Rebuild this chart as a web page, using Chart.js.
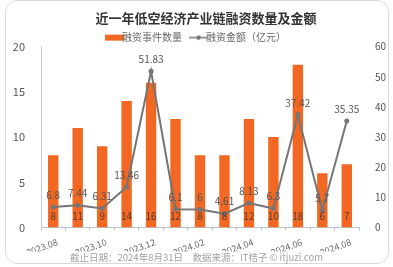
<!DOCTYPE html>
<html>
<head>
<meta charset="utf-8">
<script src="https://cdn.jsdelivr.net/npm/chart.js@4.4.1/dist/chart.umd.min.js"></script>
<style>
  html, body { margin: 0; padding: 0; background: #fff; }
  .card { position: absolute; left: 5px; top: 0; width: 382px; height: 262px; border: 1px solid #d9d9d9; border-radius: 12px; }
  .wrap { position: absolute; left: 0; top: 0; width: 393px; height: 267px; }
</style>
</head>
<body>
<div class="card"></div>
<div class="wrap"><canvas id="chart" width="393" height="267"></canvas></div>
<script>
// 近一年低空经济产业链融资数量及金额
const months = ['2023.08','2023.09','2023.10','2023.11','2023.12','2024.01','2024.02','2024.03','2024.04','2024.05','2024.06','2024.07','2024.08'];
const dealCounts = [8, 11, 9, 14, 16, 12, 8, 8, 12, 10, 18, 6, 7];
const amounts = [6.8, 7.44, 6.31, 13.46, 51.83, 6.1, 6, 4.61, 8.13, 6.3, 37.42, 5.7, 35.35];
const countMax = 20, countStep = 5;
const amountMax = 60, amountStep = 10;

const ORANGE = '#f26722';
const GREY = '#757575';
const FONT = '"Noto Sans CJK SC", "Noto Sans", sans-serif';

// legend icons, drawn with some empty room on the left for spacing
function legendIcon(kind) {
  const c = document.createElement('canvas');
  c.width = 26; c.height = 8;
  const g = c.getContext('2d');
  if (kind === 'bar') {
    g.fillStyle = ORANGE;
    g.fillRect(6, 1, 19, 6);
  } else {
    g.strokeStyle = GREY; g.lineWidth = 1.5;
    g.beginPath(); g.moveTo(6, 4); g.lineTo(25, 4); g.stroke();
    g.fillStyle = GREY;
    g.beginPath(); g.arc(15.5, 4, 2.2, 0, Math.PI * 2); g.fill();
  }
  return c;
}

const valueLabels = {
  id: 'valueLabels',
  afterDatasetsDraw(chart) {
    const ctx = chart.ctx;
    ctx.save();
    ctx.font = '10px ' + FONT;
    ctx.textAlign = 'center';
    ctx.textBaseline = 'middle';
    chart.getDatasetMeta(0).data.forEach((bar, i) => {
      ctx.fillStyle = '#5a3a2a';
      ctx.fillText(String(dealCounts[i]), bar.x, bar.base - 11);
    });
    chart.getDatasetMeta(1).data.forEach((pt, i) => {
      ctx.fillStyle = '#555';
      ctx.fillText(String(amounts[i]), pt.x, pt.y - 12);
    });
    ctx.restore();
  }
};

// trims the empty space under the legend row
const tightLegend = {
  id: 'tightLegend',
  afterInit(chart) {
    const lg = chart.legend;
    if (!lg) return;
    const fit = lg.fit;
    lg.fit = function () { fit.call(this); this.height -= 6; };
  }
};

const ctx = document.getElementById('chart');
new Chart(ctx, {
  data: {
    labels: months,
    datasets: [
      { type: 'bar', label: '融资事件数量', data: dealCounts, backgroundColor: ORANGE, yAxisID: 'y',
        barPercentage: 0.5, categoryPercentage: 0.85, order: 2 },
      { type: 'line', label: '融资金额（亿元）', data: amounts, borderColor: GREY, backgroundColor: GREY,
        borderWidth: 2, pointRadius: 2.5, pointBorderWidth: 0, pointBackgroundColor: GREY,
        yAxisID: 'y1', tension: 0, order: 1 }
    ]
  },
  options: {
    responsive: false,
    animation: false,
    layout: { padding: 0 },
    plugins: {
      title: { display: true, text: '\u3000  近一年低空经济产业链融资数量及金额', color: '#333',
        font: { family: FONT, size: 13, weight: 'bold' }, padding: { top: 10, bottom: -2 } },
      subtitle: { display: true, position: 'bottom', text: '截止日期：2024年8月31日\u3000数据来源：IT桔子 © itjuzi.com',
        color: '#a0a0a0', font: { family: FONT, size: 9.5 }, padding: { top: 0, bottom: 4 } },
      legend: {
        labels: {
          usePointStyle: true, color: '#666', font: { family: FONT, size: 10 }, padding: 9,
          generateLabels(chart) {
            return chart.data.datasets.map((ds, i) => ({
              text: ds.label, fontColor: '#666', datasetIndex: i, hidden: false,
              pointStyle: legendIcon(i === 0 ? 'bar' : 'line'), lineWidth: 0
            }));
          }
        }
      },
      tooltip: { enabled: false }
    },
    scales: {
      x: {
        grid: { display: true, drawOnChartArea: false, tickLength: 3, color: '#b8c4d0' },
        border: { color: '#b8c4d0' },
        ticks: {
          color: '#666', font: { family: FONT, size: 9 }, autoSkip: false,
          maxRotation: 20, minRotation: 20, padding: 6, labelOffset: 4,
          callback(v, i) { return i % 2 === 0 ? months[i] : ''; }
        },
        afterFit(scale) { scale.height = 24; }
      },
      y: {
        position: 'left', min: 0, max: countMax,
        grid: { display: false },
        border: { color: '#ccc' },
        ticks: { stepSize: countStep, color: '#555', font: { family: FONT, size: 11 }, padding: 8 },
        afterFit(scale) { scale.width = 41; }
      },
      y1: {
        position: 'right', min: 0, max: amountMax,
        grid: { display: false },
        border: { display: false },
        ticks: { stepSize: amountStep, color: '#555', font: { family: FONT, size: 10 }, padding: 8 },
        afterFit(scale) { scale.width = 34; }
      }
    }
  },
  plugins: [valueLabels, tightLegend]
});
</script>
</body>
</html>
